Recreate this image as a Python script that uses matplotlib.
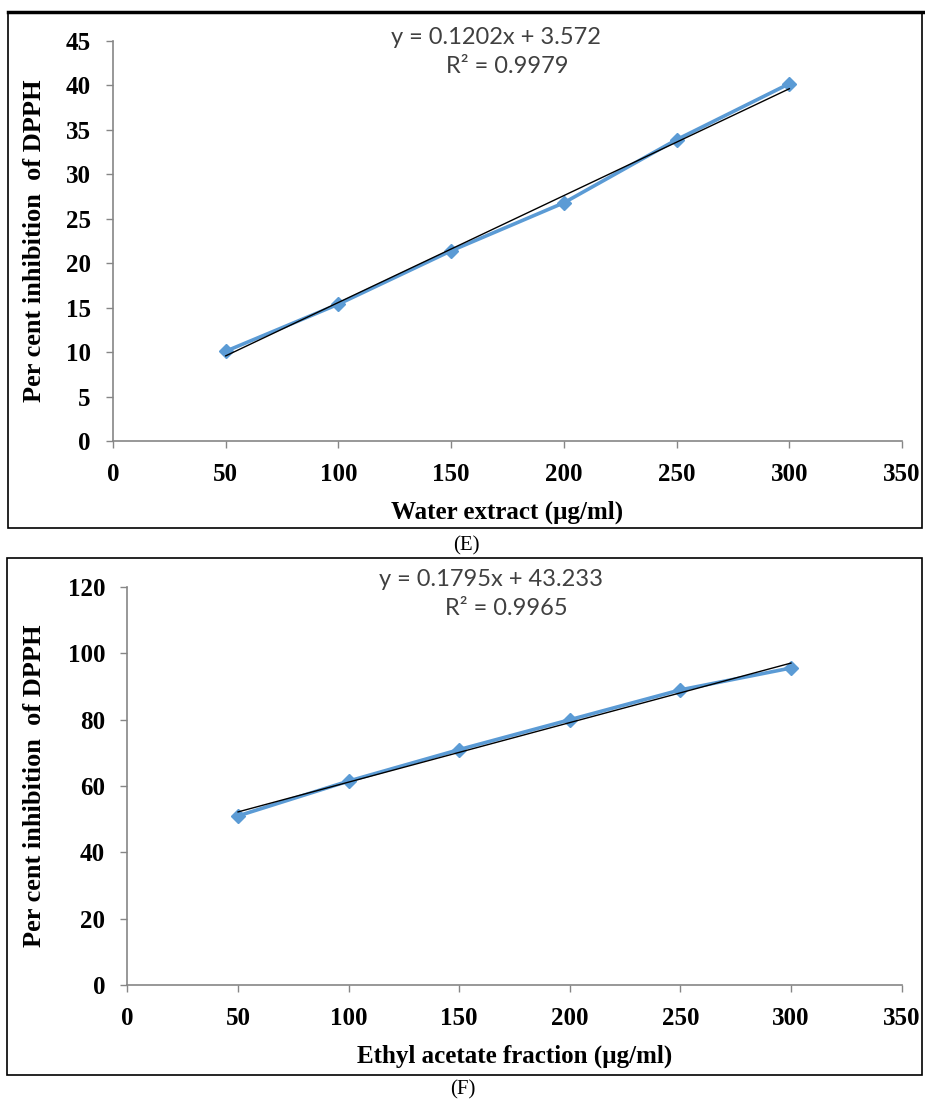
import numpy as np
import matplotlib
matplotlib.use("Agg")
import matplotlib.pyplot as plt
from matplotlib.patches import Rectangle

# data
conc = [50, 100, 150, 200, 250, 300]
water_inhib = [10.1, 15.4, 21.4, 26.8, 33.9, 40.2]
ethyl_inhib = [51.0, 61.5, 71.0, 80.0, 89.0, 95.6]

# trendline equations as printed on the chart
water_fit = (0.1202, 3.572, 0.9979)
ethyl_fit = (0.1795, 43.233, 0.9965)

xticks = [0, 50, 100, 150, 200, 250, 300, 350]
water_yticks = [0, 5, 10, 15, 20, 25, 30, 35, 40, 45]
ethyl_yticks = [0, 20, 40, 60, 80, 100, 120]

grey = "#868686"
blue = "#5B9BD5"
serif = "Liberation Serif"

fig = plt.figure(figsize=(9.25, 10.99), dpi=100)
ax1 = fig.add_axes([0.1222, 0.5987, 0.8530, 0.3640])
ax2 = fig.add_axes([0.1378, 0.1037, 0.8368, 0.3621])


def draw_panel(ax, y, fit, yticks, xlabel, ylab_x):
    ax.plot(conc, y, color=blue, lw=2.6, marker="D", ms=7, zorder=3)
    slope, icpt, r2 = fit
    xs = np.array([conc[0], conc[-1]])
    ax.plot(xs, slope * xs + icpt, color="black", lw=1.0, zorder=4)
    ax.set_xlim(0, 350)
    ax.set_ylim(yticks[0], yticks[-1])
    ax.set_xticks(xticks)
    ax.set_yticks(yticks)
    for s in ["top", "right"]:
        ax.spines[s].set_visible(False)
    for s in ["left", "bottom"]:
        ax.spines[s].set_color(grey)
        ax.spines[s].set_linewidth(1.2)
    ax.tick_params(direction="out", length=5, width=1, color=grey)
    for lab in ax.get_xticklabels() + ax.get_yticklabels():
        lab.set_fontfamily(serif)
        lab.set_fontweight("bold")
        lab.set_fontsize(18)
    ax.tick_params(axis="x", pad=11)
    ax.tick_params(axis="y", pad=11)
    ax.set_xlabel(xlabel, fontfamily=serif, fontweight="bold", fontsize=18, labelpad=10)
    ax.set_ylabel("Per cent inhibition  of DPPH", fontfamily=serif,
                  fontweight="bold", fontsize=19)
    ax.yaxis.set_label_coords(ylab_x, 0.5)
    ax.text(0.485, 1.008, f"y = {slope}x + {icpt}", transform=ax.transAxes,
            ha="center", va="center", fontfamily="Lato", fontsize=17, color="#404040")
    ax.text(0.50, 0.935, f"R² = {r2}", transform=ax.transAxes,
            ha="center", va="center", fontfamily="Lato", fontsize=17, color="#404040")


draw_panel(ax1, water_inhib, water_fit, water_yticks, "Water extract (µg/ml)", -0.085)
draw_panel(ax2, ethyl_inhib, ethyl_fit, ethyl_yticks, "Ethyl acetate fraction (µg/ml)", -0.105)

ax2.texts[0].set_position((0.47, 1.02))
ax2.texts[1].set_position((0.49, 0.945))

# frames around each panel
fig.add_artist(Rectangle((8 / 925, 1 - 528 / 1099), 914 / 925, 516 / 1099,
                         transform=fig.transFigure, fill=False, ec="black", lw=1.2))
fig.add_artist(plt.Line2D([8 / 925, 1], [1 - 12 / 1099] * 2, transform=fig.transFigure,
                          color="black", lw=2.5))
fig.add_artist(Rectangle((7 / 925, 1 - 1075 / 1099), 915 / 925, 517 / 1099,
                         transform=fig.transFigure, fill=False, ec="black", lw=1.2))

fig.text(466 / 925, 1 - 546 / 1099, "(E)", ha="center", va="center",
         fontfamily=serif, fontsize=15)
fig.text(463 / 925, 1 - 1090 / 1099, "(F)", ha="center", va="center",
         fontfamily=serif, fontsize=15)

fig.savefig("out.png", dpi=100)
